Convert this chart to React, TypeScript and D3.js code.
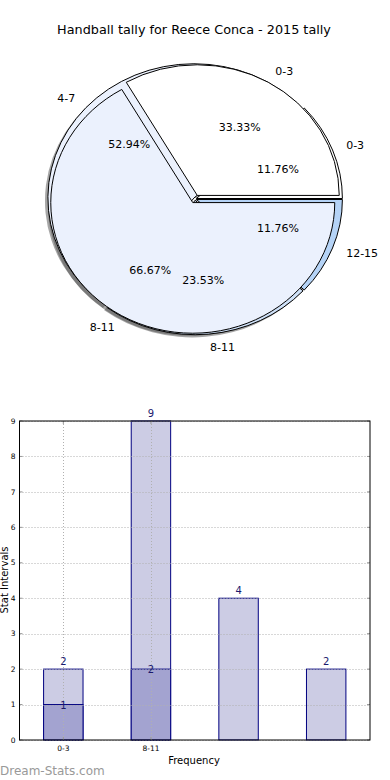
import React from "react";
import * as d3 from "d3";

// ---- data ----
const pieOuterLabels = ["0-3", "8-11"];
const pieOuterValues = [1, 2];
const pieInnerLabels = ["0-3", "4-7", "8-11", "12-15"];
const pieInnerValues = [2, 9, 4, 2];

const barCategories = ["0-3", "8-11"];
const barSeriesDark = [1, 2];
const barSeriesLight = [2, 9, 4, 2];
const yTicks = [0, 1, 2, 3, 4, 5, 6, 7, 8, 9];

const pieColors = ["#ffffff", "#ebf1fd", "#cfe1f8", "#b5d3f6"];

const FONT = "DejaVu Sans, Verdana, sans-serif";

type Wedge = {
  t1: number;
  t2: number;
  label: string;
  pct: number;
  color: string;
};

function wedges(values: number[], labels: string[]): Wedge[] {
  const total = d3.sum(values);
  const arcs = d3.pie<number>().sort(null).startAngle(0).endAngle(2 * Math.PI)(values);
  return arcs.map((a, i) => ({
    t1: a.startAngle,
    t2: a.endAngle,
    label: labels[i],
    pct: (values[i] / total) * 100,
    color: pieColors[i % pieColors.length],
  }));
}

function PieLayer({
  ws,
  cx,
  cy,
  r,
  ky,
  explode,
  mode,
}: {
  ws: Wedge[];
  cx: number;
  cy: number;
  r: number;
  ky: number;
  explode: number;
  mode: "shadow" | "wedge" | "text";
}) {
  const arc = d3.arc<any>();
  return (
    <g>
      {ws.map((w, i) => {
        const tm = (w.t1 + w.t2) / 2;
        const ox = explode * Math.cos(tm);
        const oy = -explode * Math.sin(tm) * ky;
        const x0 = cx + ox;
        const y0 = cy + oy;
        if (mode === "text") {
          const lx = x0 + 1.1 * r * Math.cos(tm);
          const ly = y0 - 1.1 * r * Math.sin(tm) * ky;
          const px = x0 + 0.6 * r * Math.cos(tm);
          const py = y0 - 0.6 * r * Math.sin(tm) * ky;
          return (
            <g key={i} fontFamily={FONT} fontSize={11} fill="#000">
              <text x={lx} y={ly} dy="0.35em" textAnchor={Math.cos(tm) > 0 ? "start" : "end"}>
                {w.label}
              </text>
              <text x={px} y={py} dy="0.35em" textAnchor="middle">
                {w.pct.toFixed(2) + "%"}
              </text>
            </g>
          );
        }
        const d = arc({
          innerRadius: 0,
          outerRadius: r,
          startAngle: Math.PI / 2 - w.t2,
          endAngle: Math.PI / 2 - w.t1,
        }) as string;
        if (mode === "shadow") {
          return (
            <path
              key={i}
              d={d}
              transform={`translate(${x0 - 0.02 * r},${y0 + 0.02 * r * ky}) scale(1,${ky})`}
              fill="#4d4d4d"
              fillOpacity={0.5}
              stroke="none"
            />
          );
        }
        return (
          <path
            key={i}
            d={d}
            transform={`translate(${x0},${y0}) scale(1,${ky})`}
            fill={w.color}
            stroke="#000"
            strokeWidth={1}
            vectorEffect="non-scaling-stroke"
          />
        );
      })}
    </g>
  );
}

export default function App() {
  const W = 390;
  const H = 780;

  // pie geometry
  const cx = 195;
  const cy = 199;
  const ky = 0.92;
  const r1 = 142;
  const r2 = 146;
  const e1 = 4.5;
  const e2 = 1.5;
  const wOuter = wedges(pieOuterValues, pieOuterLabels);
  const wInner = wedges(pieInnerValues, pieInnerLabels);

  // bar chart geometry
  const left = 19.5;
  const right = 370;
  const top = 421;
  const bottom = 740;
  const x = d3.scaleLinear().domain([-0.5, 3.5]).range([left, right]);
  const y = d3.scaleLinear().domain([0, 9]).range([bottom, top]);
  const bw = 0.45;
  const barPx = x(bw) - x(0);
  const navy = "#000080";
  const labelColor = "#1a1a6e";

  return (
    <svg width={W} height={H} style={{ position: "absolute", left: 0, top: 0 }}>
      <rect x={0} y={0} width={W} height={H} fill="#fff" />
      <text x={194} y={34} textAnchor="middle" fontFamily={FONT} fontSize={12.8} fill="#000">
        Handball tally for Reece Conca - 2015 tally
      </text>

      {/* pies */}
      <PieLayer ws={wInner} cx={cx} cy={cy} r={r2} ky={ky} explode={e2} mode="shadow" />
      <PieLayer ws={wOuter} cx={cx} cy={cy} r={r1} ky={ky} explode={e1} mode="shadow" />
      <PieLayer ws={wInner} cx={cx} cy={cy} r={r2} ky={ky} explode={e2} mode="wedge" />
      <PieLayer ws={wOuter} cx={cx} cy={cy} r={r1} ky={ky} explode={e1} mode="wedge" />
      <PieLayer ws={wOuter} cx={cx} cy={cy} r={r1} ky={ky} explode={e1} mode="text" />
      <PieLayer ws={wInner} cx={cx} cy={cy} r={r2} ky={ky} explode={e2} mode="text" />

      {/* bars */}
      {barSeriesLight.map((v, i) => (
        <rect
          key={"l" + i}
          x={x(i) - barPx / 2}
          y={y(v)}
          width={barPx}
          height={y(0) - y(v)}
          fill="#ccccE4"
          stroke={navy}
          strokeWidth={1}
        />
      ))}
      {barSeriesDark.map((v, i) => (
        <rect
          key={"d" + i}
          x={x(i) - barPx / 2}
          y={y(v)}
          width={barPx}
          height={y(0) - y(v)}
          fill="#a3a3d0"
          stroke={navy}
          strokeWidth={1}
        />
      ))}

      {/* grid */}
      {yTicks.map((t) => (
        <line
          key={"gy" + t}
          x1={left}
          x2={right}
          y1={Math.round(y(t)) + 0.5}
          y2={Math.round(y(t)) + 0.5}
          stroke="#b0b0b0"
          strokeWidth={1}
          strokeDasharray="1,2"
        />
      ))}
      {barCategories.map((c, i) => (
        <line
          key={"gx" + i}
          x1={Math.round(x(i)) + 0.5}
          x2={Math.round(x(i)) + 0.5}
          y1={top}
          y2={bottom}
          stroke="#b0b0b0"
          strokeWidth={1}
          strokeDasharray="1,2"
        />
      ))}

      {/* ticks */}
      {yTicks.map((t) => (
        <g key={"ty" + t}>
          <line x1={left} x2={left + 3} y1={y(t)} y2={y(t)} stroke="#999" />
          <line x1={right - 3} x2={right} y1={y(t)} y2={y(t)} stroke="#999" />
          <text x={left - 4} y={y(t)} dy="0.35em" textAnchor="end" fontFamily={FONT} fontSize={7.5} fill="#000">
            {t}
          </text>
        </g>
      ))}
      {barCategories.map((c, i) => (
        <g key={"tx" + i}>
          <line x1={x(i)} x2={x(i)} y1={bottom} y2={bottom - 3} stroke="#999" />
          <line x1={x(i)} x2={x(i)} y1={top} y2={top + 3} stroke="#999" />
          <text x={x(i)} y={bottom + 11} textAnchor="middle" fontFamily={FONT} fontSize={7.5} fill="#000">
            {c}
          </text>
        </g>
      ))}

      {/* frame */}
      <rect x={left} y={top} width={right - left} height={bottom - top} fill="none" stroke="#000" strokeWidth={1} />

      {/* value labels */}
      {barSeriesLight.map((v, i) => (
        <text
          key={"vl" + i}
          x={x(i)}
          y={y(v) - 4}
          textAnchor="middle"
          fontFamily={FONT}
          fontSize={10}
          fill={labelColor}
        >
          {v}
        </text>
      ))}
      {barSeriesDark.map((v, i) => (
        <text
          key={"vd" + i}
          x={x(i)}
          y={y(v) + 4}
          textAnchor="middle"
          fontFamily={FONT}
          fontSize={10}
          fill={labelColor}
        >
          {v}
        </text>
      ))}

      {/* axis labels */}
      <text x={194} y={764} textAnchor="middle" fontFamily={FONT} fontSize={10} fill="#000">
        Frequency
      </text>
      <text
        transform={`translate(8,580) rotate(-90)`}
        textAnchor="middle"
        fontFamily={FONT}
        fontSize={10}
        fill="#000"
      >
        Stat Intervals
      </text>

      {/* watermark */}
      <text x={0} y={775} fontFamily={FONT} fontSize={12} fontWeight="normal" fill="#999">
        Dream-Stats.com
      </text>
    </svg>
  );
}
